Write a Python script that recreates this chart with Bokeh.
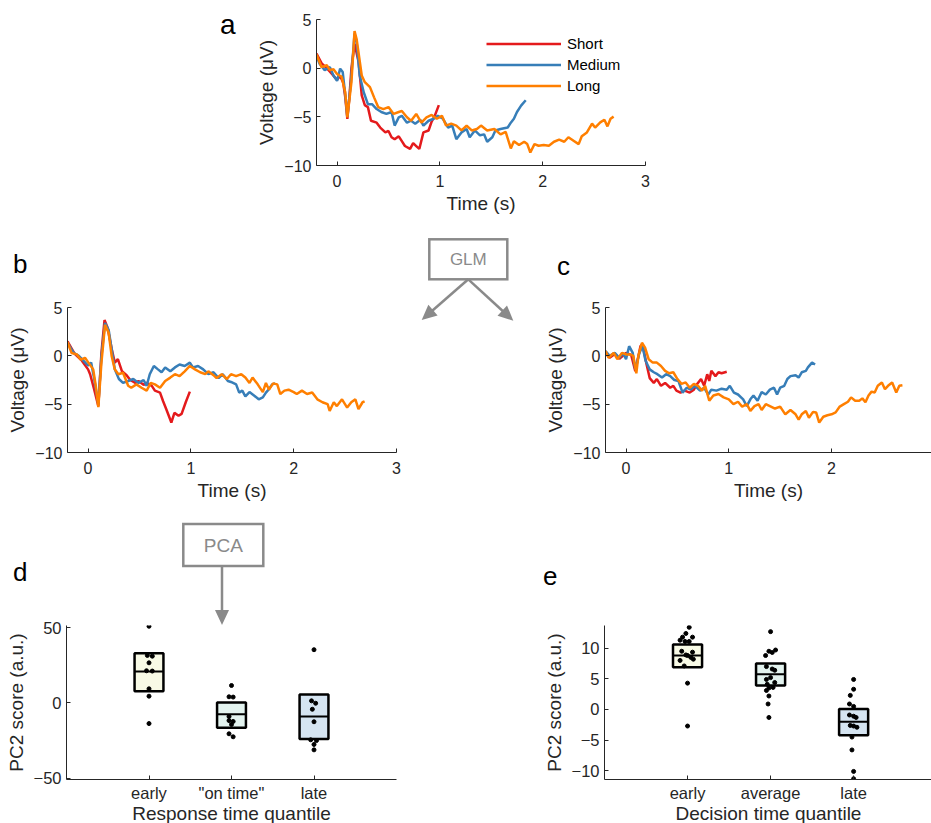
import math
from bokeh.plotting import figure
from bokeh.layouts import column, row
from bokeh.models import Range1d, FixedTicker, Spacer, Div
from bokeh.embed import file_html
from bokeh.resources import INLINE

FONT = "Liberation Sans"
TXT = "#262626"
RED, BLUE, ORANGE = "#E41A1C", "#377EB8", "#FF7F00"
GRAY = "#8a8a8a"

# ---------------- data: panel a (raw ERPs) ----------------
a_short_t = [-0.2, -0.15, -0.1, -0.05, 0.0, 0.03, 0.06, 0.08, 0.1, 0.12, 0.14, 0.17, 0.21, 0.24, 0.27, 0.30,
             0.33, 0.385, 0.42, 0.47, 0.50, 0.53, 0.56, 0.60, 0.63, 0.66, 0.71, 0.74, 0.77, 0.80, 0.84, 0.89,
             0.92, 0.95, 0.99]
a_short_v = [1.5, 0.5, 0.0, -0.6, -1.2, -0.8, -1.5, -3.0, -5.2, -3.0, 0.0, 2.5, 0.6, -2.8, -3.8, -4.0,
             -5.4, -5.6, -6.1, -6.6, -6.45, -7.1, -7.3, -7.0, -7.5, -8.0, -8.3, -7.7, -8.0, -8.3, -6.6, -6.4,
             -5.5, -4.9, -3.8]
a_medium_t = [-0.2, -0.17, -0.12, -0.07, -0.035, 0.0, 0.03, 0.055, 0.08, 0.10, 0.135, 0.17, 0.19, 0.22,
              0.26, 0.30, 0.34, 0.385, 0.43, 0.48, 0.53, 0.56, 0.60, 0.63, 0.68, 0.72, 0.76, 0.81, 0.84,
              0.89, 0.94, 0.98, 1.03, 1.08, 1.12, 1.16, 1.21, 1.26, 1.29, 1.34, 1.39, 1.43, 1.46, 1.51,
              1.54, 1.59, 1.66, 1.69, 1.72, 1.75, 1.79, 1.835]
a_medium_v = [1.3, 0.45, -0.2, 0.1, -0.75, -1.3, -0.05, -0.4, -2.8, -5.0, -1.4, 3.55, 2.7, -0.75,
              -2.5, -3.7, -3.7, -4.2, -4.5, -4.7, -4.5, -5.9, -5.05, -4.9, -5.6, -5.4, -5.7, -5.3, -5.9,
              -5.4, -5.2, -4.9, -5.2, -6.1, -5.9, -7.3, -6.6, -6.25, -7.1, -6.4, -6.9, -6.8, -7.56, -7.1,
              -6.4, -6.25, -6.1, -5.6, -5.2, -4.5, -3.85, -3.3]
a_long_t = [-0.2, -0.15, -0.1, -0.07, -0.035, 0.0, 0.045, 0.08, 0.10, 0.14, 0.17, 0.19, 0.24, 0.27, 0.32,
            0.36, 0.40, 0.45, 0.50, 0.55, 0.60, 0.63, 0.68, 0.72, 0.77, 0.82, 0.87, 0.92, 0.97, 1.02, 1.06,
            1.11, 1.16, 1.21, 1.26, 1.31, 1.36, 1.40, 1.46, 1.53, 1.59, 1.64, 1.69, 1.72, 1.77, 1.82, 1.85,
            1.88, 1.92, 1.96, 2.01, 2.06, 2.11, 2.16, 2.21, 2.25, 2.30, 2.35, 2.38, 2.43, 2.48, 2.51, 2.56,
            2.60, 2.63, 2.66, 2.69]
a_long_v = [1.4, 0.1, 0.3, -0.2, -0.1, -0.6, -0.9, -2.5, -5.05, -1.4, 3.8, 3.0, -0.75, -1.44, -1.95,
            -3.0, -4.0, -4.2, -4.0, -4.7, -4.5, -4.4, -5.05, -5.4, -4.7, -5.6, -5.05, -4.8, -5.2, -4.9, -5.9,
            -5.7, -5.9, -6.4, -5.9, -6.4, -6.25, -5.9, -6.4, -6.25, -6.8, -6.55, -8.25, -7.5, -7.9, -7.56, -7.8,
            -8.66, -7.8, -7.97, -7.9, -7.97, -7.56, -7.35, -7.56, -7.1, -7.45, -7.8, -7.0, -6.6, -5.7, -6.1, -5.57,
            -5.3, -5.98, -5.2, -4.98]

# ---------------- data: panel b (GLM, component 1) ----------------
b_short_t = [-0.2, -0.13, -0.06, 0.0, 0.02, 0.06, 0.10, 0.13, 0.16, 0.19, 0.23, 0.26, 0.29, 0.33, 0.375,
             0.41, 0.46, 0.49, 0.54, 0.57, 0.62, 0.65, 0.70, 0.73, 0.76, 0.81, 0.84, 0.88, 0.91, 0.95, 0.99]
b_short_v = [1.5, 0.2, -0.5, -1.4, -1.9, -3.5, -5.2, 0.3, 3.7, 2.9, 0.7, -0.7, -0.35, -1.6, -2.0,
             -2.5, -2.8, -2.6, -3.0, -2.8, -3.1, -3.6, -3.8, -4.7, -5.5, -6.9, -5.9, -6.2, -6.0, -4.8, -3.7]
b_medium_t = [-0.2, -0.14, -0.09, -0.045, 0.0, 0.03, 0.06, 0.10, 0.13, 0.165, 0.20, 0.23, 0.26, 0.30,
              0.34, 0.39, 0.44, 0.49, 0.54, 0.57, 0.60, 0.64, 0.68, 0.715, 0.75, 0.80, 0.845, 0.89, 0.94,
              0.99, 1.02, 1.07, 1.12, 1.17, 1.22, 1.27, 1.31, 1.36, 1.39, 1.44, 1.47, 1.50, 1.53, 1.57,
              1.62, 1.66, 1.70, 1.73, 1.76, 1.79, 1.82]
b_medium_v = [1.35, 0.3, 0.0, -0.5, -1.0, -0.7, -2.4, -5.0, -0.05, 3.4, 2.7, 0.65, -1.4, -2.4,
              -2.8, -2.6, -2.4, -2.8, -2.5, -3.1, -1.9, -1.05, -1.4, -1.7, -1.2, -1.6, -1.2, -0.9, -1.05,
              -0.7, -1.2, -1.05, -1.4, -1.9, -1.7, -2.3, -1.9, -2.6, -2.7, -2.95, -3.8, -3.6, -4.2, -3.75,
              -4.15, -4.5, -4.3, -3.8, -3.45, -2.95, -2.85]
b_long_t = [-0.2, -0.16, -0.11, -0.07, -0.03, 0.0, 0.05, 0.075, 0.10, 0.13, 0.165, 0.20, 0.23, 0.26,
            0.295, 0.34, 0.39, 0.42, 0.47, 0.52, 0.57, 0.61, 0.65, 0.70, 0.75, 0.80, 0.845, 0.89, 0.94,
            0.99, 1.04, 1.09, 1.14, 1.17, 1.22, 1.25, 1.30, 1.35, 1.39, 1.44, 1.49, 1.53, 1.57, 1.60,
            1.65, 1.70, 1.73, 1.76, 1.80, 1.84, 1.87, 1.91, 1.95, 2.0, 2.03, 2.08, 2.13, 2.18, 2.23, 2.28,
            2.33, 2.35, 2.39, 2.42, 2.47, 2.52, 2.56, 2.60, 2.63, 2.67, 2.69]
b_long_v = [1.4, 0.3, 0.15, -0.4, -0.2, -0.65, -1.4, -3.1, -5.3, -0.7, 3.2, 2.4, -0.05, -1.4,
            -1.9, -1.75, -3.1, -3.3, -2.95, -3.3, -3.6, -2.8, -2.95, -3.3, -2.6, -2.25, -1.9, -2.1, -1.6,
            -1.05, -1.4, -1.7, -1.9, -1.6, -2.0, -2.3, -1.9, -2.4, -1.9, -2.1, -1.9, -2.25, -2.8, -2.25,
            -2.95, -3.75, -2.8, -3.5, -2.85, -2.95, -3.95, -3.6, -3.5, -3.75, -3.95, -3.6, -3.95, -3.8, -4.5, -4.8,
            -5.0, -5.7, -4.8, -5.2, -4.5, -5.35, -4.8, -4.5, -5.5, -4.8, -4.7]

# ---------------- data: panel c (GLM, component 2) ----------------
c_short_t = [-0.2, -0.16, -0.11, -0.065, 0.0, 0.05, 0.09, 0.14, 0.16, 0.2, 0.23, 0.27, 0.30, 0.34, 0.38,
             0.43, 0.46, 0.49, 0.53, 0.57, 0.62, 0.66, 0.69, 0.73, 0.76, 0.79, 0.81, 0.83, 0.87, 0.9, 0.93, 0.98]
c_short_v = [0.3, -0.2, 0.2, -0.3, 0.3, 0.1, -1.6, 1.0, 1.2, -0.9, -2.3, -2.8, -2.4, -3.1, -2.8,
             -3.3, -3.1, -3.6, -3.8, -3.6, -3.8, -3.5, -2.95, -2.4, -3.1, -1.9, -2.6, -1.55, -2.1, -1.7, -1.8, -1.65]
c_medium_t = [-0.2, -0.16, -0.11, -0.065, -0.03, 0.0, 0.03, 0.065, 0.09, 0.13, 0.16, 0.19, 0.23, 0.27,
              0.305, 0.35, 0.39, 0.43, 0.47, 0.51, 0.55, 0.59, 0.63, 0.67, 0.72, 0.76, 0.80, 0.83, 0.88,
              0.93, 0.98, 1.01, 1.05, 1.09, 1.14, 1.175, 1.21, 1.24, 1.28, 1.32, 1.36, 1.40, 1.44, 1.47,
              1.50, 1.54, 1.57, 1.60, 1.65, 1.68, 1.71, 1.75, 1.77, 1.81, 1.84]
c_medium_v = [0.5, 0.0, 0.3, -0.2, 0.3, -0.35, 1.0, 0.3, -1.4, 0.3, 1.0, -0.5, -1.4, -1.7,
              -1.9, -2.25, -1.9, -2.1, -2.5, -2.6, -3.8, -3.3, -3.5, -3.1, -3.6, -3.3, -4.0, -3.5, -3.6,
              -3.4, -3.5, -3.1, -3.8, -4.0, -4.5, -5.2, -4.5, -4.1, -4.65, -3.75, -4.0, -3.5, -3.3, -4.0,
              -3.3, -3.1, -2.4, -2.1, -2.0, -2.25, -1.7, -1.55, -1.2, -0.7, -0.9]
c_long_t = [-0.2, -0.17, -0.12, -0.085, -0.04, 0.0, 0.04, 0.07, 0.10, 0.12, 0.155, 0.185, 0.22, 0.26,
            0.30, 0.34, 0.38, 0.42, 0.46, 0.50, 0.54, 0.58, 0.62, 0.66, 0.70, 0.74, 0.77, 0.81, 0.85,
            0.90, 0.95, 1.0, 1.045, 1.09, 1.13, 1.175, 1.21, 1.25, 1.29, 1.32, 1.36, 1.40, 1.45, 1.50,
            1.55, 1.60, 1.65, 1.68, 1.71, 1.75, 1.78, 1.82, 1.85, 1.88, 1.92, 1.96, 2.0, 2.04, 2.08, 2.12,
            2.16, 2.19, 2.23, 2.27, 2.30, 2.33, 2.36, 2.39, 2.42, 2.45, 2.49, 2.52, 2.55, 2.59, 2.63, 2.66, 2.69]
c_long_v = [0.5, -0.2, 0.3, -0.35, 0.3, 0.15, 0.15, 0.0, -1.8, 0.0, 1.35, 0.85, -0.35, -0.7,
            -0.7, -1.05, -1.55, -1.8, -1.7, -2.4, -2.9, -2.75, -3.3, -2.9, -3.1, -3.6, -3.1, -4.65, -4.1,
            -3.95, -4.3, -4.5, -5.0, -4.75, -5.25, -5.0, -5.7, -5.2, -5.0, -5.6, -5.0, -5.2, -5.45, -5.25,
            -6.05, -5.6, -6.05, -6.6, -6.05, -5.7, -6.4, -5.8, -5.85, -6.9, -6.3, -6.15, -6.05, -5.85, -5.25, -5.0,
            -4.75, -4.3, -4.65, -4.65, -4.4, -4.8, -4.1, -3.7, -3.8, -3.1, -2.75, -3.45, -3.1, -2.75, -3.8, -3.1, -3.05]

time_ticks = [0, 1, 2, 3]
volt_ticks = [-10, -5, 0, 5]

# ---------------- data: panel d (PCA, response time) ----------------
d_labels = ["early", '"on time"', "late"]
d_pos = [1, 2, 3]
d_q1 = [7.8, -16.5, -23.9]
d_q3 = [33.1, 0.3, 5.6]
d_med = [20.9, -7.5, -9.0]
d_early_y = [51.0, 31.6, 31.1, 26.7, 21.4, 21.2, 9.4, 4.5, -13.7]
d_early_dx = [0.0, -0.02, 0.04, 0.0, -0.03, 0.04, 0.0, 0.0, 0.0]
d_ontime_y = [11.6, 4.1, 3.9, -9.0, -11.7, -12.3, -14.3, -20.5, -22.5]
d_ontime_dx = [0.0, -0.03, 0.02, -0.03, -0.03, 0.02, 0.0, -0.03, 0.02]
d_late_y = [35.4, 1.4, -0.2, -4.2, -12.5, -24.5, -25.0, -27.6, -31.2]
d_late_dx = [0.0, -0.03, 0.02, -0.02, 0.0, -0.04, 0.03, 0.0, 0.0]
d_yticks = [-50, 0, 50]

# ---------------- data: panel e (PCA, decision time) ----------------
e_labels = ["early", "average", "late"]
e_pos = [1, 2, 3]
e_q1 = [6.9, 3.9, -4.2]
e_q3 = [10.6, 7.5, 0.1]
e_med = [8.8, 5.75, -2.0]
e_early_y = [13.4, 12.4, 11.8, 11.8, 11.3, 11.1, 11.1, 9.5, 9.35, 8.9, 8.8, 8.5, 8.0, 8.2, 7.1, 4.3, -2.7]
e_early_dx = [0.02, -0.02, -0.06, 0.06, -0.09, -0.03, 0.02, -0.07, 0.06, -0.02, 0.0, 0.04, -0.09, 0.07,
              -0.04, 0.0, 0.0]
e_avg_y = [12.7, 9.7, 9.5, 9.3, 8.8, 7.0, 6.6, 6.4, 5.2, 4.9, 4.4, 4.1, 3.6, 3.5, 3.1, 2.2, 0.9, -1.3]
e_avg_dx = [0.0, 0.06, -0.02, 0.02, -0.06, -0.05, 0.02, 0.05, 0.0, -0.05, 0.05, -0.04, 0.03, -0.02,
            -0.05, -0.02, -0.03, -0.02]
e_late_y = [4.9, 3.3, 2.3, 0.9, 0.5, -0.9, -1.1, -1.3, -2.6, -2.7, -2.9, -4.5, -6.6, -10.1, -11.3]
e_late_dx = [0.0, 0.0, -0.04, -0.05, 0.0, -0.05, 0.0, 0.03, -0.04, 0.0, 0.04, -0.02, -0.02, 0.0, 0.0]
e_yticks = [-10, -5, 0, 5, 10]

BOX_FILLS = ["#F8FAE6", "#E3F3EF", "#D5E4F1"]


# ---------------- helpers ----------------
def make_fig(fl, ft, fw, fh, width, height, xr, yr, xticks, yticks, tick_fs, label_fs, xlabel, ylabel,
             x_standoff, x_label_standoff):
    p = figure(frame_width=fw, frame_height=fh,
               min_border_left=fl, min_border_top=ft,
               min_border_right=width - fl - fw, min_border_bottom=height - ft - fh,
               x_range=Range1d(*xr), y_range=Range1d(*yr),
               output_backend="svg", toolbar_location=None, title=None,
               background_fill_color="white", border_fill_color=None)
    p.grid.visible = False
    p.outline_line_color = None
    p.xaxis.ticker = FixedTicker(ticks=xticks)
    p.yaxis.ticker = FixedTicker(ticks=yticks)
    for ax in p.axis:
        ax.axis_line_color = TXT
        ax.axis_line_width = 1
        ax.major_tick_line_color = TXT
        ax.major_tick_in = 4
        ax.major_tick_out = 0
        ax.minor_tick_line_color = None
        ax.major_label_text_font = FONT
        ax.major_label_text_font_size = tick_fs
        ax.major_label_text_color = TXT
        ax.axis_label_text_font = FONT
        ax.axis_label_text_font_size = label_fs
        ax.axis_label_text_font_style = "normal"
        ax.axis_label_text_color = TXT
    p.xaxis.axis_label = xlabel
    p.yaxis.axis_label = ylabel
    p.xaxis.major_label_standoff = x_standoff
    p.xaxis.axis_label_standoff = x_label_standoff
    p.yaxis.major_label_standoff = 5
    p.yaxis.axis_label_standoff = 4
    return p


def erp_panel(fl, ft, fw, fh, width, height, xr, series, legend=False):
    p = make_fig(fl, ft, fw, fh, width, height, xr, (-10, 5), time_ticks, volt_ticks, "16px", "19px",
                 "Time (s)", "Voltage (μV)", 9, 3)
    names = ["Short", "Medium", "Long"]
    for (t, v), col, nm in zip(series, [RED, BLUE, ORANGE], names):
        if legend:
            p.line(t, v, line_color=col, line_width=2.5, legend_label=nm)
        else:
            p.line(t, v, line_color=col, line_width=2.5)
    if legend:
        lg = p.legend[0]
        lg.location = (170, 69)
        lg.padding = 0
        lg.margin = 0
        lg.spacing = 0
        lg.label_height = 21
        lg.glyph_height = 21
        lg.glyph_width = 75
        lg.label_standoff = 6
        lg.border_line_color = None
        lg.background_fill_alpha = 0
        lg.label_text_font = FONT
        lg.label_text_font_size = "15px"
        lg.label_text_color = "black"
    return p


def box_panel(fl, ft, fw, fh, width, height, xr, yr, labels, pos, q1, q3, med, groups, yticks, xlabel):
    p = make_fig(fl, ft, fw, fh, width, height, xr, yr, pos, yticks, "16.5px", "19px", xlabel,
                 "PC2 score (a.u.)", 4, -2)
    p.xaxis.major_label_overrides = {k: v for k, v in zip(pos, labels)}
    hw = 0.175
    p.quad(left=[x - hw for x in pos], right=[x + hw for x in pos], bottom=q1, top=q3,
           fill_color=BOX_FILLS, line_color="black", line_width=2.5)
    p.segment(x0=[x - hw for x in pos], x1=[x + hw for x in pos], y0=med, y1=med,
              line_color="black", line_width=2)
    for xc, (ys, dxs) in zip(pos, groups):
        p.scatter([xc + d for d in dxs], ys, size=4, color="black", marker="circle")
    return p


# ---- SVG decoration helpers (panel letters, GLM / PCA boxes and arrows) ----
def svg_doc(w, h, body, extra_h=0):
    return (f'<svg xmlns="http://www.w3.org/2000/svg" width="{w}" height="{h + extra_h}" '
            f'style="display:block;overflow:visible">{body}</svg>')


def svg_letter(x, y, t, size=26):
    return (f'<text x="{x}" y="{y}" font-family="{FONT}, Arial, sans-serif" font-size="{size}" '
            f'fill="black">{t}</text>')


def svg_box(x, y, w, h, t, size):
    return (f'<rect x="{x}" y="{y}" width="{w}" height="{h}" fill="white" stroke="{GRAY}" stroke-width="2.5"/>'
            f'<text x="{x + w / 2}" y="{y + h / 2}" font-family="{FONT}, Arial, sans-serif" font-size="{size}" '
            f'fill="{GRAY}" text-anchor="middle" dominant-baseline="central">{t}</text>')


def svg_arrow(x0, y0, x1, y1, L=15, W=7):
    dx, dy = x1 - x0, y1 - y0
    n = math.hypot(dx, dy)
    ux, uy = dx / n, dy / n
    bx, by = x1 - ux * L, y1 - uy * L
    nx, ny = -uy, ux
    return (f'<line x1="{x0}" y1="{y0}" x2="{bx + ux}" y2="{by + uy}" stroke="{GRAY}" stroke-width="2.5"/>'
            f'<polygon points="{x1},{y1} {bx + nx * W},{by + ny * W} {bx - nx * W},{by - ny * W}" '
            f'fill="{GRAY}"/>')


def deco(w, h, body, extra_h=0):
    return Div(text=svg_doc(w, h, body, extra_h), width=w, height=h, margin=0,
               styles={"overflow": "visible", "z-index": "5"})


# ---------------- row 1: panel a ----------------
pa = erp_panel(76, 19, 329, 146, 691, 235, (-0.2, 3.0),
               [(a_short_t, a_short_v), (a_medium_t, a_medium_v), (a_long_t, a_long_v)], legend=True)
div_a = deco(240, 235, svg_letter(220, 34, "a", 28))
row1 = row(div_a, pa)

# ---------------- row 2: panels b, GLM, c ----------------
pb = erp_panel(67, 22, 329, 145, 410, 225, (-0.2, 3.0),
               [(b_short_t, b_short_v), (b_medium_t, b_medium_v), (b_long_t, b_long_v)])
pc = erp_panel(65, 22, 326, 145, 391, 225, (-0.2, 2.973),
               [(c_short_t, c_short_v), (c_medium_t, c_medium_v), (c_long_t, c_long_v)])
div_b = deco(410, 50, svg_letter(13, 38, "b"))
div_c = deco(391, 50, svg_letter(17, 40, "c"))
div_glm = deco(130, 275, svg_box(19.3, 4.3, 78, 40, "GLM", 17)
               + svg_arrow(58.3, 44.3, 11.7, 85) + svg_arrow(58.3, 44.3, 103.3, 85.7))
row2 = row(column(div_b, pb), div_glm, column(div_c, pc))

# ---------------- row 3: panels d, e ----------------
pd_ = box_panel(66, 7, 330, 154, 410, 205, (0, 4), (-50.9, 51.5), d_labels, d_pos, d_q1, d_q3, d_med,
                [(d_early_y, d_early_dx), (d_ontime_y, d_ontime_dx), (d_late_y, d_late_dx)],
                d_yticks, "Response time quantile")
pe = box_panel(63, 7, 328, 154, 391, 205, (0, 3.95), (-11.42, 13.70), e_labels, e_pos, e_q1, e_q3, e_med,
               [(e_early_y, e_early_dx), (e_avg_y, e_avg_dx), (e_late_y, e_late_dx)],
               e_yticks, "Decision time quantile")
div_d = deco(410, 108, svg_letter(13, 71, "d") + svg_box(183.3, 14, 80, 42, "PCA", 19)
             + svg_arrow(222, 56, 222, 115), extra_h=10)
div_e = deco(391, 108, svg_letter(3, 74.5, "e"))
row3 = row(column(div_d, pd_), Spacer(width=130, height=313, margin=0), column(div_e, pe))

layout = column(row1, row2, row3)

open("out.html", "w").write(file_html(layout, INLINE))
